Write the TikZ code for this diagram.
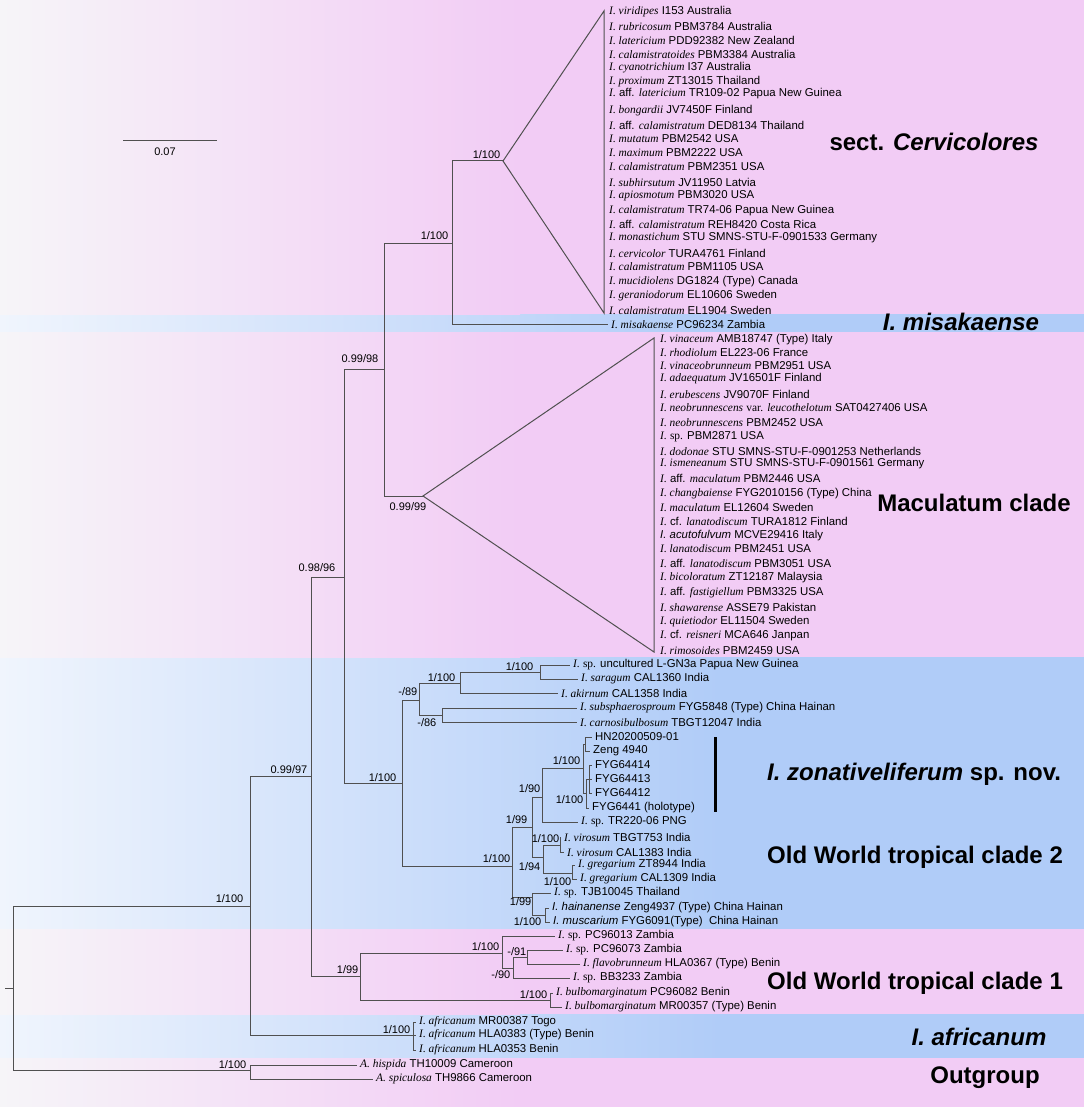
\documentclass[tikz,border=0pt]{standalone}
\usepackage{fontspec}
\setmainfont{Liberation Sans}
\newfontfamily\tnr{Liberation Serif}
\usetikzlibrary{positioning}
\definecolor{bandpink}{RGB}{242, 204, 245}
\definecolor{fadepink}{RGB}{246, 245, 248}
\definecolor{bandblue}{RGB}{176, 204, 248}
\definecolor{fadeblue}{RGB}{240, 245, 253}
\definecolor{branch}{RGB}{80, 80, 80}
\newcommand{\gi}[1]{{\tnr\itshape #1}}

\begin{document}
\begin{tikzpicture}[x=1pt, y=-1pt,
  br/.style={draw=branch, line width=1pt},
  taxon/.style={font=\fontsize{11.4}{13}\selectfont, inner sep=0pt, anchor=west},
  supp/.style={font=\fontsize{11}{12}\selectfont, inner sep=0.5pt},
  clade/.style={font=\fontsize{24}{26}\selectfont\bfseries, inner sep=0pt}]
  \useasboundingbox (0,0) rectangle (1084,1107);

  % Background bands - blue and pink, fading in from the left
  \foreach \ya/\yb in {314/332, 657/929, 1014/1058} {
    \shade[left color=fadeblue, right color=bandblue] (0,\ya) rectangle (720,\yb);
    \fill[bandblue] (715,\ya) rectangle (1084,\yb);
  }
  \foreach \ya/\yb in {0/314, 332/657, 929/1014, 1058/1107} {
    \shade[left color=fadepink, right color=bandpink] (0,\ya) rectangle (520,\yb);
    \fill[bandpink] (515,\ya) rectangle (1084,\yb);
  }

  % Scale bar
  \coordinate (sbL) at (123,141);
  \coordinate (sbR) at (217,141);
  \draw[br] (sbL) -- (sbR);
  \node[supp] (sblab) at (165,152) {0.07};

  % Internal nodes
  \foreach \n/\x/\y in {r/13/988, ig/250/906, og/250/1070, af/413/1035,
      n2/311/776, n3/344/577, n4/384/369, n5/452/243, cvA/503/161, macA/423/496,
      owt2/402/783, c1/419/700, c3/460/683, c5/540/672, c4/442/715,
      c2/512/866, c6/532/827, c8/542/797, zX/583/768, zZ/585/744, zY/586/793,
      zT/589/779, c9/543/857, vir/560/845, greg/572/873, c7/532/897, hm/545/915,
      owt1/360/976, d1/502/953, d2/513/968, d3/527/957, bulb/550/1000}
    \coordinate (\n) at (\x,\y);
  \coordinate (stub) at (5,988);
  \draw[br] (stub) -- (r);

  % Branches between internal nodes
  \foreach \p/\c in {r/ig, r/og, ig/n2, ig/af, n2/n3, n2/owt1, n3/n4, n3/owt2,
      n4/n5, n4/macA, n5/cvA, owt2/c1, owt2/c2, c1/c3, c1/c4, c3/c5, c2/c6,
      c2/c7, c6/c8, c6/c9, c8/zX, zX/zZ, zX/zY, zY/zT, c9/vir, c9/greg, c7/hm,
      owt1/d1, owt1/bulb, d1/d2, d2/d3}
    \draw[br] (\p) |- (\c);

  % Collapsed clades
  \coordinate (cvT) at (604,11);
  \coordinate (cvB) at (604,313);
  \draw[br] (cvA) -- (cvT) -- (cvB) -- cycle;
  \coordinate (macT) at (654,338);
  \coordinate (macB) at (654,652);
  \draw[br] (macA) -- (macT) -- (macB) -- cycle;

  % sect. Cervicolores taxa
  \foreach \y/\t [count=\i] in {
      12/{\gi{I. viridipes} I153 Australia},
      26/{\gi{I. rubricosum} PBM3784 Australia},
      40/{\gi{I. latericium} PDD92382 New Zealand},
      54/{\gi{I. calamistratoides} PBM3384 Australia},
      68/{\gi{I. cyanotrichium} I37 Australia},
      82/{\gi{I. proximum} ZT13015 Thailand},
      94/{\gi{I.} aff. \gi{latericium} TR109-02 Papua New Guinea},
      111/{\gi{I. bongardii} JV7450F Finland},
      125/{\gi{I.} aff. \gi{calamistratum} DED8134 Thailand},
      139/{\gi{I. mutatum} PBM2542 USA},
      153/{\gi{I. maximum} PBM2222 USA},
      167/{\gi{I. calamistratum} PBM2351 USA},
      182/{\gi{I. subhirsutum} JV11950 Latvia},
      196/{\gi{I. apiosmotum} PBM3020 USA},
      211/{\gi{I. calamistratum} TR74-06 Papua New Guinea},
      224/{\gi{I.} aff. \gi{calamistratum} REH8420 Costa Rica},
      238/{\gi{I. monastichum} STU SMNS-STU-F-0901533 Germany},
      253/{\gi{I. cervicolor} TURA4761 Finland},
      267/{\gi{I. calamistratum} PBM1105 USA},
      282/{\gi{I. mucidiolens} DG1824 (Type) Canada},
      296/{\gi{I. geraniodorum} EL10606 Sweden},
      310/{\gi{I. calamistratum} EL1904 Sweden}}
    \node[taxon] (cv\i) at (609,\y) {\t};

  % Maculatum clade taxa
  \foreach \y/\t [count=\i] in {
      340/{\gi{I. vinaceum} AMB18747 (Type) Italy},
      353/{\gi{I. rhodiolum} EL223-06 France},
      366/{\gi{I. vinaceobrunneum} PBM2951 USA},
      379/{\gi{I. adaequatum} JV16501F Finland},
      394/{\gi{I. erubescens} JV9070F Finland},
      408/{\gi{I. neobrunnescens} {\tnr var.} \gi{leucothelotum} SAT0427406 USA},
      423/{\gi{I. neobrunnescens} PBM2452 USA},
      437/{\gi{I.} {\tnr sp.} PBM2871 USA},
      451/{\gi{I. dodonae} STU SMNS-STU-F-0901253 Netherlands},
      464/{\gi{I. ismeneanum} STU SMNS-STU-F-0901561 Germany},
      478/{\gi{I.} aff. \gi{maculatum} PBM2446 USA},
      494/{\gi{I. changbaiense} FYG2010156 (Type) China},
      507/{\gi{I. maculatum} EL12604 Sweden},
      521/{\gi{I.} cf. \gi{lanatodiscum} TURA1812 Finland},
      536/{{\itshape I. acutofulvum} MCVE29416 Italy},
      549/{\gi{I. lanatodiscum} PBM2451 USA},
      563/{\gi{I.} aff. \gi{lanatodiscum} PBM3051 USA},
      578/{\gi{I. bicoloratum} ZT12187 Malaysia},
      593/{\gi{I.} aff. \gi{fastigiellum} PBM3325 USA},
      607/{\gi{I. shawarense} ASSE79 Pakistan},
      622/{\gi{I. quietiodor} EL11504 Sweden},
      636/{\gi{I.} cf. \gi{reisneri} MCA646 Janpan},
      651/{\gi{I. rimosoides} PBM2459 USA}}
    \node[taxon] (mac\i) at (660,\y) {\t};

  % Tips drawn as branches
  \foreach \p/\n/\x/\y/\t in {
      n5/misa/608/324/{\gi{I. misakaense} PC96234 Zambia},
      c5/t01/570/665/{\gi{I.} {\tnr sp.} uncultured L-GN3a Papua New Guinea},
      c5/t02/578/679/{\gi{I. saragum} CAL1360 India},
      c3/t03/558/693/{\gi{I. akirnum} CAL1358 India},
      c4/t04/577/708/{\gi{I. subsphaerosproum} FYG5848 (Type) China Hainan},
      c4/t05/577/722/{\gi{I. carnosibulbosum} TBGT12047 India},
      zZ/t06/592/737/{HN20200509-01},
      zZ/t07/590/751/{Zeng 4940},
      zT/t08/592/765/{FYG64414},
      zT/t09/592/779/{FYG64413},
      zT/t10/592/793/{FYG64412},
      zY/t11/589/808/{FYG6441 (holotype)},
      c8/t12/578/822/{\gi{I.} {\tnr sp.} TR220-06 PNG},
      vir/t13/561/837/{\gi{I. virosum} TBGT753 India},
      vir/t14/564/852/{\gi{I. virosum} CAL1383 India},
      greg/t15/575/865/{\gi{I. gregarium} ZT8944 India},
      greg/t16/577/879/{\gi{I. gregarium} CAL1309 India},
      c7/t17/551/893/{\gi{I.} {\tnr sp.} TJB10045 Thailand},
      hm/t18/549/908/{{\itshape I. hainanense} Zeng4937 (Type) China Hainan},
      hm/t19/550/922/{{\itshape I. muscarium} FYG6091(Type)~~China Hainan},
      d1/t20/555/936/{\gi{I.} {\tnr sp.} PC96013 Zambia},
      d3/t21/563/950/{\gi{I.} {\tnr sp.} PC96073 Zambia},
      d3/t22/580/964/{\gi{I. flavobrunneum} HLA0367 (Type) Benin},
      d2/t23/570/978/{\gi{I.} {\tnr sp.} BB3233 Zambia},
      bulb/t24/553/993/{\gi{I. bulbomarginatum} PC96082 Benin},
      bulb/t25/562/1007/{\gi{I. bulbomarginatum} MR00357 (Type) Benin},
      af/t26/416/1022/{\gi{I. africanum} MR00387 Togo},
      af/t27/416/1035/{\gi{I. africanum} HLA0383 (Type) Benin},
      af/t28/416/1050/{\gi{I. africanum} HLA0353 Benin},
      og/t29/357/1065/{\gi{A. hispida} TH10009 Cameroon},
      og/t30/373/1079/{\gi{A. spiculosa} TH9866 Cameroon}} {
    \coordinate (\n) at (\x,\y);
    \draw[br] (\p) |- (\n);
    \node[taxon, right=3pt of \n] (\n-l) {\t};
  }

  % Support values (PP/BS)
  \node[supp, above left=2pt and 2pt of cvA] (s01) {1/100};
  \node[supp, above left=3pt and 3pt of n5] (s02) {1/100};
  \node[supp, above left=6pt and 5pt of n4] (s03) {0.99/98};
  \node[supp, below left=6pt and -4pt of macA] (s04) {0.99/99};
  \node[supp, above left=5pt and 8pt of n3] (s05) {0.98/96};
  \node[supp, above left=2pt and 3pt of n2] (s06) {0.99/97};
  \node[supp, above left=3pt and 6pt of ig] (s07) {1/100};
  \node[supp, above left=1pt and 5pt of owt2] (s08) {1/100};
  \node[supp, above left=4pt and 1pt of c1] (s09) {-/89};
  \node[supp, above left=1pt and 4pt of c3] (s10) {1/100};
  \node[supp, above left=1pt and 6pt of c5] (s11) {1/100};
  \node[supp, below left=3pt and 5pt of c4] (s12) {-/86};
  \node[supp, above left=3pt and 1pt of c2] (s13) {1/100};
  \node[supp, above left=3pt and 4pt of c6] (s14) {1/99};
  \node[supp, above left=4pt and 1pt of c8] (s15) {1/90};
  \node[supp, above left=3pt and 2pt of zX] (s16) {1/100};
  \node[supp, below left=2pt and 2pt of zY] (s17) {1/100};
  \node[supp, below left=5pt and 2pt of c9] (s18) {1/94};
  \node[supp, above left=2pt and 0pt of vir] (s19) {1/100};
  \node[supp, below left=4pt and 0pt of greg] (s20) {1/100};
  \node[supp, below left=0pt and 0pt of c7] (s21) {1/99};
  \node[supp, below left=2pt and 3pt of hm] (s22) {1/100};
  \node[supp, above left=2pt and 1pt of owt1] (s23) {1/99};
  \node[supp, above left=2pt and 2pt of d1] (s24) {1/100};
  \node[supp, above left=1pt and 0pt of d3] (s25) {-/91};
  \node[supp, below left=2pt and 2pt of d2] (s26) {-/90};
  \node[supp, above left=1pt and 2pt of bulb] (s27) {1/100};
  \node[supp, above left=1pt and 2pt of af] (s28) {1/100};
  \node[supp, above left=1pt and 3pt of og] (s29) {1/100};

  % New species bar
  \coordinate (barT) at (715,737);
  \coordinate (barB) at (715,812);
  \draw[line width=3pt] (barT) -- (barB);

  % Clade names
  \node[clade] (lab-cerv) at (934,142) {sect. \textit{Cervicolores}};
  \node[clade] (lab-misa) at (961,322) {\textit{I. misakaense}};
  \node[clade] (lab-mac) at (974,503) {Maculatum clade};
  \node[clade, anchor=west] (lab-zona) at (767,774) {\textit{I. zonativeliferum} sp. nov.};
  \node[clade, anchor=west] (lab-owt2) at (767,857) {Old World tropical clade 2};
  \node[clade, anchor=west] (lab-owt1) at (767,983) {Old World tropical clade 1};
  \node[clade] (lab-afr) at (979,1037) {\textit{I. africanum}};
  \node[clade] (lab-out) at (985,1078) {Outgroup};
\end{tikzpicture}
\end{document}
